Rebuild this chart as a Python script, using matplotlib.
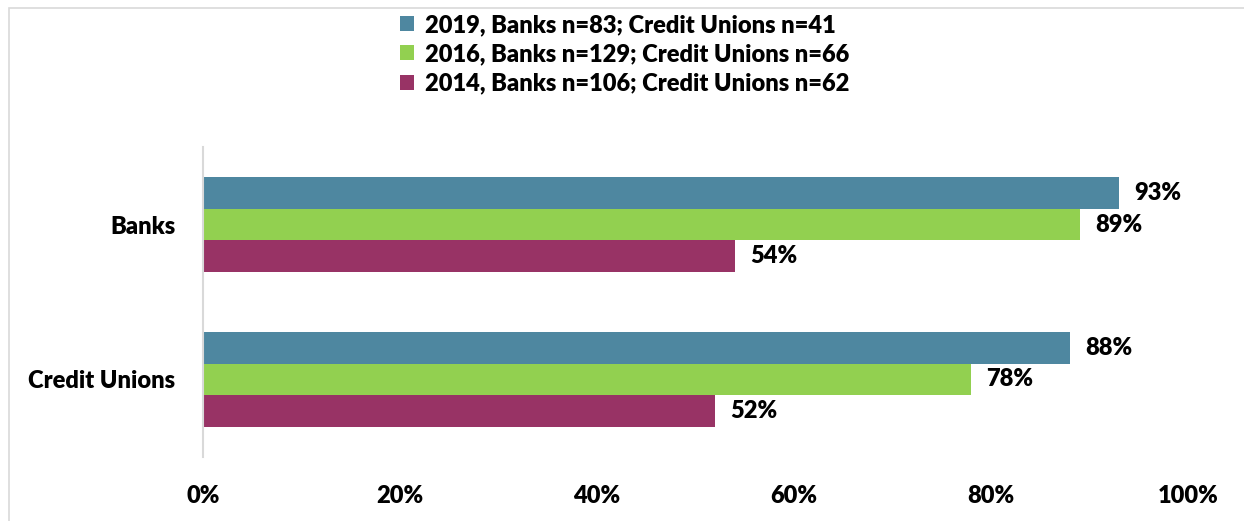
import matplotlib
matplotlib.use("Agg")
import matplotlib.pyplot as plt
from matplotlib.patches import Rectangle
from matplotlib.ticker import FuncFormatter

categories = ["Banks", "Credit Unions"]
series_labels = [
    "2019, Banks n=83; Credit Unions n=41",
    "2016, Banks n=129; Credit Unions n=66",
    "2014, Banks n=106; Credit Unions n=62",
]
values_2019 = [93, 88]
values_2016 = [89, 78]
values_2014 = [54, 52]
colors = ["#4E87A0", "#92D050", "#983365"]

plt.rcParams["font.family"] = ["Lato", "DejaVu Sans"]
FW = "heavy"
FS = 17

fig = plt.figure(figsize=(12.44, 5.21), dpi=100)
ax = fig.add_axes([203 / 1244, 1 - 457 / 521, (1188 - 203) / 1244, 310 / 521])

# outer chart border
fig.patches.append(Rectangle((9 / 1244, -0.05), 1.2, 1 - 8 / 521 + 0.05,
                             transform=fig.transFigure, fill=False,
                             edgecolor="#D9D9D9", linewidth=1.2))

centers = [1, 0]  # Banks on top
bar_h = 0.206
offsets = [bar_h, 0, -bar_h]
all_vals = [values_2019, values_2016, values_2014]

for vals, off, col, lab in zip(all_vals, offsets, colors, series_labels):
    ys = [c + off for c in centers]
    ax.barh(ys, vals, height=bar_h, color=col, label=lab, edgecolor="none")
    for y, v in zip(ys, vals):
        ax.annotate(f"{v}%", xy=(v, y), xytext=(11, 0),
                    textcoords="offset points", va="center", ha="left",
                    fontsize=FS, fontweight=FW, color="black")

ax.set_xlim(0, 100)
ax.set_ylim(-0.5, 1.5)
ax.set_xticks(range(0, 101, 20))
ax.xaxis.set_major_formatter(FuncFormatter(lambda x, p: f"{int(x)}%"))
ax.set_yticks(centers)
ax.set_yticklabels(categories)
ax.tick_params(axis="x", length=0, pad=20, labelsize=FS)
ax.tick_params(axis="y", length=0, pad=20, labelsize=FS)
for t in ax.get_xticklabels() + ax.get_yticklabels():
    t.set_fontweight(FW)

for s in ["top", "right", "bottom"]:
    ax.spines[s].set_visible(False)
ax.spines["left"].set_color("#D9D9D9")
ax.spines["left"].set_linewidth(1.5)

leg = fig.legend(loc="upper center", bbox_to_anchor=(0.502, 1.0), ncol=1,
                 frameon=False, prop={"size": FS, "weight": FW},
                 handlelength=0.6, handleheight=0.6, handletextpad=0.45,
                 labelspacing=0.3, borderaxespad=0.2)

fig.savefig("out.png", dpi=100, facecolor="white")
